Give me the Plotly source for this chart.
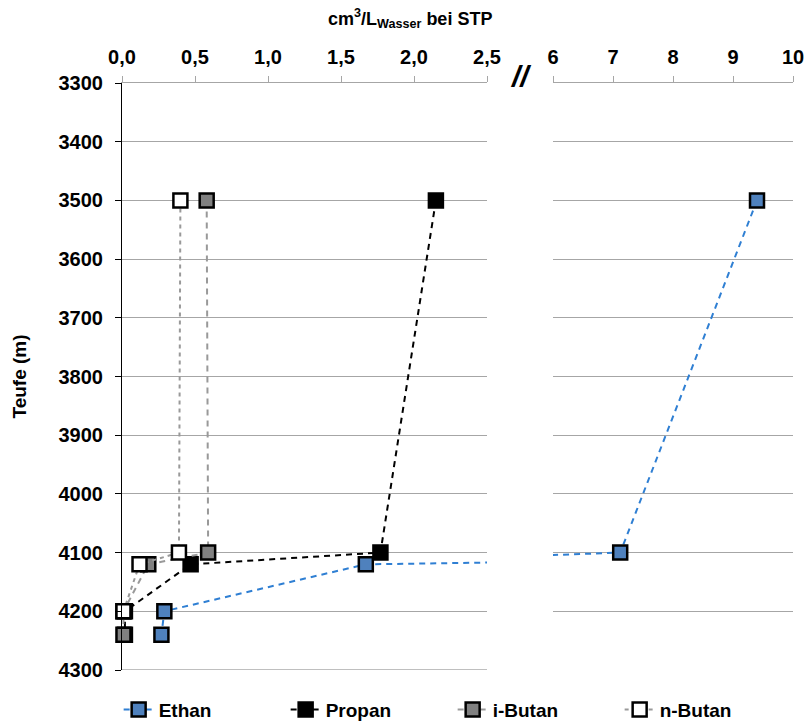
import plotly.graph_objects as go

# Depth profile of dissolved light hydrocarbons (values in cm³ per litre of water at STP)
depth_ethan = [3500, 4100, 4120, 4200, 4240]
ethan = [9.40, 7.12, 1.67, 0.29, 0.27]

depth_propan = [3500, 4100, 4120, 4200, 4240]
propan = [2.15, 1.77, 0.47, 0.02, 0.02]

depth_ibutan = [3500, 4100, 4120, 4200, 4240]
ibutan = [0.58, 0.59, 0.18, 0.01, 0.01]

depth_nbutan = [3500, 4100, 4120, 4200]
nbutan = [0.40, 0.39, 0.12, 0.01]

left_ticks = [0.0, 0.5, 1.0, 1.5, 2.0, 2.5]
left_ticktext = ["0,0", "0,5", "1,0", "1,5", "2,0", "2,5"]
right_ticks = [6, 7, 8, 9, 10]
depth_ticks = list(range(3300, 4301, 100))

LEFT_RANGE = [0, 2.5]
RIGHT_RANGE = [6, 10]

FONT = "Liberation Sans, Arial, sans-serif"

series = [
    dict(name="Ethan", x=ethan, y=depth_ethan, line="#2F7FD3", fill="#4F81BD", dash="6px,5px"),
    dict(name="Propan", x=propan, y=depth_propan, line="#000000", fill="#000000", dash="6px,5px"),
    dict(name="i-Butan", x=ibutan, y=depth_ibutan, line="#999999", fill="#808080", dash="6px,5px"),
    dict(name="n-Butan", x=nbutan, y=depth_nbutan, line="#999999", fill="#FFFFFF", dash="4px,4px"),
]

fig = go.Figure()


def visible(xs, rng):
    return [1 if rng[0] - 1e-9 <= v <= rng[1] + 1e-9 else 0 for v in xs]


for s in series:
    line = dict(color=s["line"], width=2, dash=s["dash"])
    # legend entry with a fully opaque marker
    fig.add_trace(go.Scatter(
        x=[None], y=[None], mode="lines+markers", name=s["name"],
        legendgroup=s["name"], showlegend=True, line=line,
        marker=dict(symbol="square", size=14, color=s["fill"],
                    line=dict(color="#000000", width=2.5)),
    ))
    # the same series on both halves of the broken axis; each half shows only its own markers
    for xa, ya, rng in (("x", "y", LEFT_RANGE), ("x2", "y2", RIGHT_RANGE)):
        fig.add_trace(go.Scatter(
            x=s["x"], y=s["y"], xaxis=xa, yaxis=ya,
            mode="lines+markers", name=s["name"],
            showlegend=False, legendgroup=s["name"],
            cliponaxis=False, line=line,
            marker=dict(symbol="square", size=14, color=s["fill"],
                        opacity=visible(s["x"], rng),
                        line=dict(color="#000000", width=2.5)),
        ))

grid = "#A6A6A6"
tickfont = dict(family=FONT, size=20, color="#000000", weight="bold")

xcommon = dict(side="top", showgrid=False, zeroline=False, showline=True,
               linecolor=grid, linewidth=1, ticks="outside", ticklen=6,
               tickcolor=grid, tickfont=tickfont, ticklabelstandoff=4,
               ticklabeloverflow="allow")

PLOT_W = 806 - 122 - 13

fig.update_layout(
    width=806, height=722,
    margin=dict(l=122, r=13, t=83, b=52, autoexpand=False),
    plot_bgcolor="white", paper_bgcolor="white",
    font=dict(family=FONT, size=18, color="#000000"),
    xaxis=dict(domain=[0, 365 / PLOT_W], range=LEFT_RANGE, tickvals=left_ticks,
               ticktext=left_ticktext, anchor="y", **xcommon),
    xaxis2=dict(domain=[431 / PLOT_W, 1], range=RIGHT_RANGE, tickvals=right_ticks,
                anchor="y2", **xcommon),
    yaxis=dict(range=[4300, 3300], tickvals=depth_ticks, anchor="x",
               showgrid=True, gridcolor=grid, gridwidth=1, zeroline=False,
               showline=True, linecolor="#000000", linewidth=1,
               ticks="outside", ticklen=6, tickcolor="#000000",
               tickfont=tickfont, ticklabelstandoff=8,
               title=dict(text="Teufe (m)", standoff=26,
                          font=dict(family=FONT, size=19, color="#000000", weight="bold"))),
    yaxis2=dict(range=[4300, 3300], tickvals=depth_ticks, anchor="x2",
                matches="y", showgrid=True, gridcolor=grid, gridwidth=1,
                zeroline=False, showticklabels=False, showline=False),
    showlegend=True,
    legend=dict(orientation="h", x=-0.005, xanchor="left", y=-0.035, yanchor="top",
                font=dict(family=FONT, size=19, color="#000000", weight="bold"),
                entrywidth=122, entrywidthmode="pixels", traceorder="normal"),
    annotations=[
        dict(text="<b>cm<sup>3</sup>/L<sub>Wasser</sub> bei STP</b>", xref="paper", yref="paper",
             x=(410 - 122) / PLOT_W, y=1 + (83 - 19) / 587, xanchor="center", yanchor="middle",
             showarrow=False, font=dict(family=FONT, size=18, color="#000000")),
        dict(text="<b><i>//</i></b>", xref="paper", yref="paper",
             x=(520 - 122) / PLOT_W, y=1 + (83 - 76) / 587, xanchor="center", yanchor="middle",
             showarrow=False, font=dict(family=FONT, size=30, color="#000000")),
    ],
)

# light bottom border along the deepest gridline
fig.add_shape(type="line", xref="x domain", yref="y", x0=0, x1=1, y0=4300, y1=4300,
              line=dict(color="#BFBFBF", width=2))

fig.write_html("out.html")
